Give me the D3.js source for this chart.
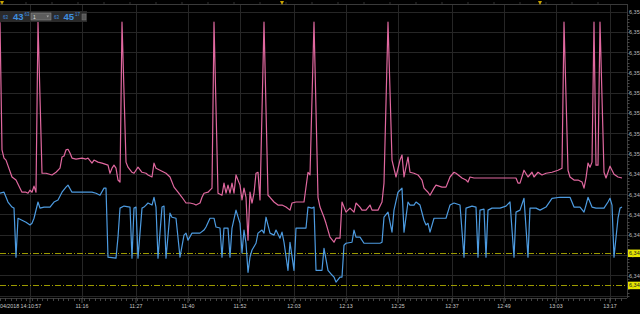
<!DOCTYPE html>
<html><head><meta charset="utf-8">
<script src="https://cdn.jsdelivr.net/npm/d3@7"></script>
<style>html,body{margin:0;padding:0;background:#000;overflow:hidden}svg{display:block}</style>
</head><body>
<svg id="c" width="640" height="314"></svg>
<script>
// ---- DATA ----
const pinkTick = [0,1,2,3,6,8,10,11,13,14,15,16,17,18,19,21,23,26,28,30,31,32,33,34,35,36,38,41,43,44,46,47,49,51,54,55,56,57,58,59,60,61,63,64,66,67,69,71,73,74,76,77,78,80,82,83,85,87,89,91,93,95,97,98,100,101,102,104,105,106,107,109,110,111,112,113,114,115,116,117,118,120,121,122,123,124,125,126,127,128,129,130,132,134,135,137,139,141,143,145,146,148,152,154,155,157,159,160,162,163,165,167,168,170,171,173,175,177,178,180,181,183,185,186,189,191,192,194,196,198,200,201,202,204,205,207,209,211,212,214,215,217,218,221,223,225,227,228,231,233,234,235,237,258,259,260,262,264,266,267,269,271,273,276,279,281,282,284,285,287,289,291,292,293,294,295,296,297,298,299,300,302,303,304,305,307,309,311];
const pinkVal = [6.35390,6.35012,6.34988,6.34982,6.34932,6.34923,6.34899,6.34887,6.34887,6.34884,6.34893,6.34887,6.34905,6.34887,6.35390,6.34943,6.34943,6.34938,6.34946,6.34958,6.34991,6.34994,6.35012,6.35014,6.35003,6.34988,6.34985,6.34988,6.34985,6.34988,6.34973,6.34982,6.34976,6.34973,6.34967,6.34943,6.34958,6.34967,6.34958,6.34923,6.34917,6.35390,6.34976,6.34961,6.34946,6.34943,6.34961,6.34946,6.34943,6.34938,6.34932,6.34973,6.34958,6.34952,6.34946,6.34943,6.34932,6.34902,6.34887,6.34872,6.34855,6.34855,6.34852,6.34849,6.34855,6.34872,6.34884,6.34887,6.34893,6.34899,6.35390,6.34884,6.34881,6.34878,6.34914,6.34884,6.34908,6.34884,6.34914,6.34884,6.34938,6.34908,6.34864,6.34899,6.34872,6.34745,6.34887,6.34855,6.34884,6.34943,6.34946,6.34864,6.35390,6.34878,6.34872,6.34858,6.34849,6.34849,6.34843,6.34834,6.34855,6.34858,6.34858,6.34946,6.34938,6.35390,6.34872,6.34843,6.34813,6.34795,6.34754,6.34739,6.34751,6.34751,6.34858,6.34828,6.34840,6.34828,6.34855,6.34843,6.34834,6.34834,6.34849,6.34834,6.34834,6.34858,6.34914,6.35390,6.34982,6.34932,6.34982,6.34997,6.34932,6.34991,6.34946,6.34943,6.34938,6.34923,6.34899,6.34887,6.34878,6.34899,6.34908,6.34902,6.34902,6.34932,6.34946,6.34943,6.34929,6.34923,6.34917,6.34932,6.34929,6.34929,6.34914,6.34914,6.34952,6.34932,6.34946,6.34932,6.34946,6.34938,6.34943,6.34946,6.34952,6.34958,6.35390,6.34952,6.34932,6.34923,6.34923,6.34917,6.34899,6.34929,6.34973,6.34961,6.34976,6.35390,6.34967,6.34967,6.35390,6.34946,6.34929,6.34946,6.34964,6.34940,6.34932,6.34929];

const blueTick = [0,2,4,6,7,8,9,11,13,15,16,17,19,20,22,25,27,29,31,33,34,36,39,44,46,48,50,52,53,54,58,59,60,62,65,66,67,68,69,71,72,73,74,76,77,78,79,81,82,83,85,86,88,90,92,93,94,96,100,102,103,105,107,108,110,111,112,114,115,116,118,120,121,122,123,124,125,126,128,129,131,132,133,135,137,138,140,141,142,144,145,147,148,153,154,156,157,158,161,162,164,166,167,168,170,171,172,173,176,177,178,180,182,190,191,192,194,196,197,199,201,202,204,205,207,208,210,212,213,214,215,217,223,225,227,230,232,233,236,238,239,240,242,243,244,246,250,253,255,257,258,260,262,264,265,268,270,273,276,280,285,287,290,292,293,294,296,298,302,304,305,306,307,309,310,311];
const blueVal = [6.34884,6.34887,6.34858,6.34843,6.34840,6.34695,6.34810,6.34804,6.34798,6.34790,6.34795,6.34810,6.34858,6.34840,6.34843,6.34843,6.34858,6.34864,6.34887,6.34902,6.34908,6.34887,6.34887,6.34887,6.34887,6.34884,6.34878,6.34899,6.34899,6.34695,6.34692,6.34754,6.34840,6.34846,6.34843,6.34692,6.34840,6.34843,6.34692,6.34840,6.34843,6.34849,6.34855,6.34849,6.34872,6.34843,6.34692,6.34843,6.34846,6.34692,6.34825,6.34813,6.34810,6.34695,6.34760,6.34766,6.34745,6.34766,6.34766,6.34775,6.34784,6.34810,6.34810,6.34784,6.34781,6.34695,6.34781,6.34781,6.34695,6.34781,6.34834,6.34795,6.34707,6.34775,6.34736,6.34650,6.34695,6.34716,6.34736,6.34766,6.34775,6.34766,6.34813,6.34766,6.34760,6.34775,6.34751,6.34769,6.34739,6.34656,6.34739,6.34656,6.34781,6.34781,6.34843,6.34840,6.34843,6.34656,6.34656,6.34721,6.34656,6.34642,6.34636,6.34621,6.34636,6.34636,6.34730,6.34736,6.34739,6.34775,6.34754,6.34754,6.34736,6.34736,6.34739,6.34813,6.34828,6.34769,6.34834,6.34887,6.34899,6.34769,6.34858,6.34849,6.34849,6.34858,6.34849,6.34804,6.34790,6.34795,6.34769,6.34810,6.34810,6.34849,6.34855,6.34849,6.34695,6.34840,6.34846,6.34843,6.34695,6.34834,6.34837,6.34695,6.34834,6.34840,6.34840,6.34846,6.34858,6.34695,6.34828,6.34834,6.34869,6.34695,6.34840,6.34840,6.34834,6.34843,6.34869,6.34872,6.34872,6.34843,6.34843,6.34828,6.34849,6.34872,6.34843,6.34840,6.34840,6.34858,6.34869,6.34849,6.34695,6.34810,6.34840,6.34843];

const levelVals = [6.34707, 6.34612];
const levelLabels = ["6,34707", "6,34612"];
const yTickVals = [6.3458,6.3464,6.3470,6.3476,6.3482,6.3488,6.3494,6.3500,6.3506,6.3512,6.3518,6.3524,6.3530,6.3536,6.3542];
const xLabelTicks = [15,41,68,94,120,147,173,199,226,252,278,305];
const xLabels = ["04/2018 14:10:57","11:16","11:27","11:40","11:52","12:03","12:13","12:25","12:37","12:49","13:03","13:17"];
const markerTicks = [1,141,270];

// ---- CHART ----
const svg = d3.select("#c");
const W = 640, H = 314;
const plotRight = 627, plotTop = 4, plotBottom = 298;
svg.append("rect").attr("width",W).attr("height",H).attr("fill","#000");

const x = d3.scaleLinear().domain([0,311]).range([0,622]);
const y = d3.scaleLinear().domain([6.3458,6.3542]).range([296,12]);

const gridCol = "#262626";
svg.append("g").selectAll("line").data(yTickVals).join("line")
  .attr("x1",0).attr("x2",plotRight).attr("y1",d=>y(d)).attr("y2",d=>y(d))
  .attr("stroke",gridCol).attr("stroke-width",1).attr("shape-rendering","crispEdges");
svg.append("g").selectAll("line").data(xLabelTicks).join("line")
  .attr("x1",d=>x(d)).attr("x2",d=>x(d)).attr("y1",plotTop).attr("y2",plotBottom)
  .attr("stroke",gridCol).attr("stroke-width",1).attr("shape-rendering","crispEdges");

svg.append("line").attr("x1",0).attr("x2",plotRight).attr("y1",plotTop+0.5).attr("y2",plotTop+0.5).attr("stroke","#3a3a3a");
svg.append("line").attr("x1",plotRight+0.5).attr("x2",plotRight+0.5).attr("y1",plotTop).attr("y2",plotBottom).attr("stroke","#3a3a3a");
svg.append("line").attr("x1",0).attr("x2",plotRight).attr("y1",plotBottom+0.5).attr("y2",plotBottom+0.5).attr("stroke","#3a3a3a");

const minorX = d3.range(0, 311, 2.63);
svg.append("g").selectAll("line").data(minorX).join("line")
  .attr("x1",d=>Math.round(x(d))+0.5).attr("x2",d=>Math.round(x(d))+0.5).attr("y1",plotBottom).attr("y2",plotBottom+3)
  .attr("stroke","#444");
svg.append("g").selectAll("line").data(xLabelTicks).join("line")
  .attr("x1",d=>x(d)).attr("x2",d=>x(d)).attr("y1",plotBottom).attr("y2",plotBottom+5)
  .attr("stroke","#555");
const minorY = d3.range(6.3458, 6.3542, 0.0001);
svg.append("g").selectAll("line").data(minorY).join("line")
  .attr("x1",plotRight).attr("x2",plotRight+2.5).attr("y1",d=>Math.round(y(d))+0.5).attr("y2",d=>Math.round(y(d))+0.5)
  .attr("stroke","#444");

svg.append("g").selectAll("line").data(d3.range(0,311,13)).join("line")
  .attr("x1",d=>x(d)).attr("x2",d=>x(d)).attr("y1",2).attr("y2",4).attr("stroke","#333");
svg.append("g").selectAll("path").data(markerTicks).join("path")
  .attr("d",d=>`M${x(d)-2},1 L${x(d)+2},1 L${x(d)},5 Z`).attr("fill","#c9a300");

// level lines (olive-yellow dash-dot)
svg.append("g").selectAll("line").data(levelVals).join("line")
  .attr("x1",0).attr("x2",plotRight).attr("y1",d=>Math.round(y(d))+0.5).attr("y2",d=>Math.round(y(d))+0.5)
  .attr("stroke","#9c9a00").attr("stroke-width",1).attr("stroke-dasharray","6,2,1,2");

const line = d3.line().x(d=>x(d[0])).y(d=>y(d[1]));
const pinkData = pinkTick.map((t,i)=>[t,pinkVal[i]]);
const blueData = blueTick.map((t,i)=>[t,blueVal[i]]);
svg.append("path").datum(blueData).attr("d",line).attr("fill","none")
  .attr("stroke","#4d9be0").attr("stroke-width",1.2).attr("stroke-linejoin","round");
svg.append("path").datum(pinkData).attr("d",line).attr("fill","none")
  .attr("stroke","#e0689f").attr("stroke-width",1.2).attr("stroke-linejoin","round");

// right axis labels (clipped by the window edge as in the original)
const fmt = v => v.toFixed(4).replace(".",",");
svg.append("g").selectAll("text").data(yTickVals.slice(1)).join("text")
  .attr("x",629).attr("y",d=>y(d)+2).text(fmt)
  .attr("fill","#bbb").attr("font-family","Liberation Sans, Arial, sans-serif").attr("font-size",5.5);

const lg = svg.append("g").selectAll("g").data(levelVals).join("g");
lg.append("rect").attr("x",628).attr("y",d=>y(d)-3.5).attr("width",14).attr("height",7.5).attr("fill","#e6e600");
lg.append("text").attr("x",629).attr("y",d=>y(d)+2).text((d,i)=>levelLabels[i])
  .attr("fill","#222").attr("font-family","Liberation Sans, Arial, sans-serif").attr("font-size",5.5);

svg.append("g").selectAll("text").data(xLabelTicks).join("text")
  .attr("x",(d,i)=> i===0 ? 0 : x(d))
  .attr("text-anchor",(d,i)=> i===0 ? "start" : "middle")
  .attr("y",308).text((d,i)=>xLabels[i])
  .attr("fill","#c8c8c8").attr("font-family","Liberation Sans, Arial, sans-serif").attr("font-size",5.3);

const hb = svg.append("g");
hb.append("rect").attr("x",0).attr("y",11).attr("width",87).attr("height",11).attr("fill","#2a2a2a");
const blue = "#3d8fe0", ff = "Liberation Sans, Arial, sans-serif";
hb.append("text").attr("x",3).attr("y",19).text("63").attr("fill",blue).attr("font-family",ff).attr("font-size",4.5);
hb.append("text").attr("x",13).attr("y",20).text("43").attr("fill",blue).attr("font-family",ff).attr("font-size",9.5).attr("font-weight","bold");
hb.append("text").attr("x",24.5).attr("y",16).text("63").attr("fill",blue).attr("font-family",ff).attr("font-size",4.5);
hb.append("rect").attr("x",31).attr("y",13).attr("width",20).attr("height",7).attr("fill","#5c5c5c").attr("stroke","#8a8a8a").attr("stroke-width",0.6);
hb.append("text").attr("x",33).attr("y",19).text("1").attr("fill","#ddd").attr("font-family",ff).attr("font-size",5);
hb.append("path").attr("d","M46.5,15.5 L49,15.5 L47.75,17.5 Z").attr("fill","#aaa");
hb.append("text").attr("x",54).attr("y",19).text("63").attr("fill",blue).attr("font-family",ff).attr("font-size",4.5);
hb.append("text").attr("x",63.5).attr("y",20).text("45").attr("fill",blue).attr("font-family",ff).attr("font-size",9.5).attr("font-weight","bold");
hb.append("text").attr("x",75).attr("y",16).text("17").attr("fill",blue).attr("font-family",ff).attr("font-size",4.5);
hb.append("rect").attr("x",82).attr("y",14).attr("width",4).attr("height",6).attr("fill","#555").attr("stroke","#777").attr("stroke-width",0.5);
</script>
</body></html>
